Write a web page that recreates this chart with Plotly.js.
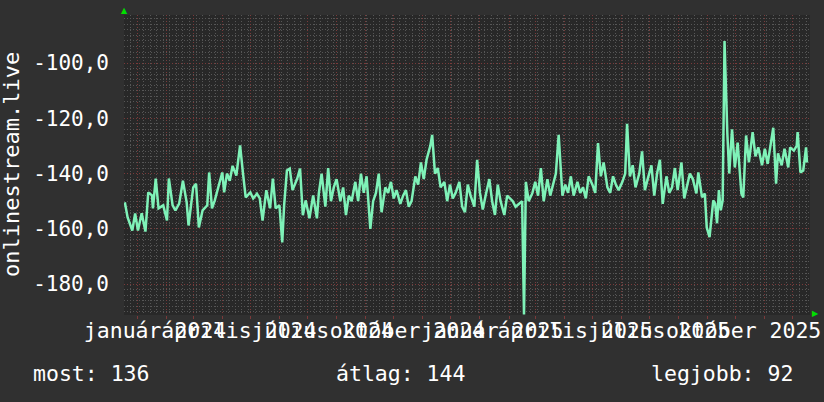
<!DOCTYPE html>
<html><head><meta charset="utf-8">
<script src="https://cdn.plot.ly/plotly-3.0.1.min.js"></script>
<style>html,body{margin:0;padding:0;background:#303030;}#chart{width:824px;height:402px;}</style>
</head><body><div id="chart"></div>
<script>
// ---- data ----
const dates = [
'2023-12-19','2023-12-22','2023-12-27','2023-12-30','2024-01-02','2024-01-06','2024-01-10','2024-01-13','2024-01-17','2024-01-18',
'2024-01-21','2024-01-24','2024-01-29','2024-02-02','2024-02-04','2024-02-08','2024-02-11','2024-02-15','2024-02-19','2024-02-23',
'2024-02-25','2024-03-01','2024-03-04','2024-03-07','2024-03-11','2024-03-16','2024-03-18','2024-03-21','2024-03-24','2024-03-29',
'2024-04-01','2024-04-03','2024-04-06','2024-04-09','2024-04-12','2024-04-16','2024-04-20','2024-04-23','2024-04-26','2024-05-01',
'2024-05-04','2024-05-08','2024-05-11','2024-05-14','2024-05-18','2024-05-22','2024-05-25','2024-05-28','2024-06-01','2024-06-04',
'2024-06-06','2024-06-09','2024-06-12','2024-06-15','2024-06-20','2024-06-23','2024-06-26','2024-06-29','2024-07-03','2024-07-07',
'2024-07-11','2024-07-13',
'2024-07-16','2024-07-20','2024-07-23','2024-07-26','2024-07-29','2024-08-01','2024-08-05','2024-08-08','2024-08-11','2024-08-14',
'2024-08-17','2024-08-21','2024-08-24','2024-08-27','2024-08-30','2024-09-02','2024-09-06','2024-09-09','2024-09-12','2024-09-15',
'2024-09-18','2024-09-22','2024-09-25','2024-09-28','2024-10-01','2024-10-04','2024-10-08','2024-10-11','2024-10-14','2024-10-17',
'2024-10-20','2024-10-24','2024-10-27','2024-10-30','2024-11-02','2024-11-05','2024-11-09','2024-11-11','2024-11-14','2024-11-17',
'2024-11-20','2024-11-24','2024-11-27','2024-11-30','2024-12-03','2024-12-06','2024-12-10','2024-12-13','2024-12-16','2024-12-19',
'2024-12-22','2024-12-26','2024-12-29','2025-01-01','2025-01-04','2025-01-07','2025-01-11','2025-01-14','2025-01-17','2025-01-20',
'2025-01-23','2025-01-27','2025-01-30','2025-02-02','2025-02-05','2025-02-08','2025-02-12','2025-02-15','2025-02-17','2025-02-19',
'2025-02-22','2025-02-26','2025-03-01','2025-03-04','2025-03-07','2025-03-10','2025-03-14','2025-03-17','2025-03-20','2025-03-23',
'2025-03-26','2025-03-30','2025-04-02','2025-04-05','2025-04-08','2025-04-11','2025-04-15','2025-04-18','2025-04-21','2025-04-24',
'2025-04-27','2025-05-01','2025-05-04','2025-05-07','2025-05-10','2025-05-13','2025-05-17','2025-05-20','2025-05-23','2025-05-26',
'2025-05-29','2025-06-02','2025-06-05','2025-06-07','2025-06-10','2025-06-13','2025-06-16','2025-06-20','2025-06-23','2025-06-26',
'2025-06-29','2025-07-03','2025-07-06','2025-07-09','2025-07-12','2025-07-15','2025-07-19','2025-07-22','2025-07-25','2025-07-28',
'2025-07-31','2025-08-04','2025-08-07','2025-08-10',
'2025-08-13','2025-08-16','2025-08-20','2025-08-22','2025-08-26','2025-08-29','2025-08-31','2025-09-03','2025-09-07','2025-09-09',
'2025-09-11','2025-09-13','2025-09-15','2025-09-17','2025-09-19','2025-09-22','2025-09-24','2025-09-27','2025-09-30','2025-10-03',
'2025-10-07','2025-10-09','2025-10-12','2025-10-15','2025-10-19','2025-10-22','2025-10-25','2025-10-29','2025-11-01','2025-11-04',
'2025-11-10','2025-11-13','2025-11-15','2025-11-19','2025-11-22','2025-11-26','2025-11-28','2025-12-02','2025-12-05','2025-12-06',
'2025-12-09','2025-12-12','2025-12-15','2025-12-16'
];
const values = [
-150.4,-155.9,-160.6,-154.4,-160.6,-154.4,-161,-146.8,-147.9,-152.6,
-141.8,-152.6,-151.5,-157,-141.8,-151.5,-153.3,-150.9,-142.6,-150.4,
-158.8,-145,-143.7,-159.5,-153.3,-151.5,-139.6,-152.6,-149.7,-143.7,
-139.6,-146.8,-140,-142.6,-137.2,-140.7,-129.8,-139.6,-148.6,-146.8,
-149,-147.3,-149,-157,-146,-152.6,-141.8,-152.6,-151.5,-164.9,
-151.5,-138.9,-138.2,-146,-141.8,-138.2,-155.1,-149.7,-156.2,-147.9,
-156.2,-147.3,
-140,-152,-138,-150,-145,-142,-150,-145,-155,-148,
-150,-143,-150,-140,-147,-141,-160,-150,-147,-140,
-154,-145,-147,-143,-149,-146,-151,-148,-146,-152,
-150,-141,-144,-136,-142,-135,-130,-126,-140,-138,
-145,-143,-150,-144,-149,-147,-143,-152,-154,-144,
-148,-152,-135,-147,-153,-148,-142,-150,-155,-144,
-150,-155,-148,-149,-150,-152,-151,-150,-191,-143,
-150,-147,-143,-148,-138,-150,-142,-148,-144,-140,
-126,-148,-144,-147,-141,-148,-143,-147,-145,-149,
-141,-144,-147,-129,-141,-136,-145,-147,-141,-144,
-146,-143,-140,-122,-141,-137,-145,-140,-132,-146,
-142,-137,-148,-140,-135,-151,-141,-147,-145,-138,
-146,-136,-149,-144,
-140,-141.8,-147.2,-139.6,-148.6,-147.2,-159.5,-163,-149.7,-150.9,
-158,-146,-153.3,-149.7,-92,-125.5,-140,-124,-137.8,-128.8,
-147.3,-148.6,-126.2,-135.9,-125,-133.8,-130.5,-137,-131,-136.5,
-123.4,-143.7,-132.7,-137,-131,-137.8,-130.5,-131.7,-130,-125,
-139.6,-138.9,-130.5,-136
];
const seriesName = 'onlinestream.live';
const quarterStarts = ['2024-01-01','2024-04-01','2024-07-01','2024-10-01','2025-01-01','2025-04-01','2025-07-01','2025-10-01'];
const quarterLabels = ['január 2024','április 2024','július 2024','október 2024','január 2025','április 2025','július 2025','október 2025'];
const yTickVals = [-180, -160, -140, -120, -100];
const yTickText = ['-180,0', '-160,0', '-140,0', '-120,0', '-100,0'];
const statTexts = ['most: 136', 'átlag: 144', 'legjobb: 92'];

// ---- axis helpers ----
const DAY = 86400000;
const xRange = ['2023-12-18 03:00', '2025-12-19 05:00'];
const monthTicks = [];
for (let y = 2024; y <= 2025; y++) for (let m = 1; m <= 12; m++) monthTicks.push(y + '-' + String(m).padStart(2, '0') + '-01');
// RRD-style label placement: labels sit a little after their period start
const t0 = Date.parse(quarterStarts[0] + 'T00:00:00Z');
const labelPos = quarterStarts.map(s => {
  const dq = (Date.parse(s + 'T00:00:00Z') - t0) / DAY;
  return new Date(t0 + (19.2 + 0.9831 * dq) * DAY).toISOString().slice(0, 16).replace('T', ' ');
});

const FONT = 'DejaVu Sans Mono';
const RED = '#7a3a3a';
const GRAY = '#565656';
const DASH = '1px,2px';

const traces = [
  { x: dates, y: values, type: 'scatter', mode: 'lines', line: { color: '#7ff2b8', width: 2.5 }, hoverinfo: 'skip', showlegend: false },
  { x: xRange, y: [null, null], xaxis: 'x2', yaxis: 'y', type: 'scatter', mode: 'lines', hoverinfo: 'skip', showlegend: false }
];

const layout = {
  width: 824, height: 402,
  paper_bgcolor: '#303030', plot_bgcolor: '#282828',
  margin: { l: 124, r: 14, t: 15, b: 87 },
  showlegend: false,
  font: { family: FONT, color: '#ffffff', size: 20 },
  xaxis: {
    type: 'date', range: xRange, tickmode: 'array', tickvals: monthTicks, ticktext: monthTicks.map(() => ''),
    showgrid: true, gridcolor: RED, griddash: DASH, gridwidth: 1, zeroline: false, showline: false,
    ticks: 'outside', ticklen: 3, tickcolor: RED,
    minor: { tickmode: 'linear', tick0: '2023-12-18', dtick: 7 * DAY, showgrid: true, gridcolor: GRAY, griddash: DASH, ticks: '' }
  },
  xaxis2: {
    type: 'date', overlaying: 'x', anchor: 'y', side: 'bottom', range: xRange,
    tickmode: 'array', tickvals: labelPos, ticktext: quarterLabels, tickangle: 0,
    showgrid: false, zeroline: false, ticks: '', ticklabeloverflow: 'allow',
    tickfont: { family: FONT, size: 21.5, color: '#ffffff' }
  },
  yaxis: {
    range: [-191.2, -82.6], tickmode: 'array', tickvals: yTickVals, ticktext: yTickText,
    showgrid: true, gridcolor: RED, griddash: DASH, zeroline: false, showline: false, ticks: '',
    ticklabelstandoff: 14, tickfont: { family: FONT, size: 21, color: '#ffffff' },
    minor: { tickmode: 'linear', tick0: 0, dtick: 2, showgrid: true, gridcolor: GRAY, griddash: DASH }
  },
  annotations: [
    { text: seriesName, xref: 'paper', yref: 'paper', x: 0, y: 0.5, xshift: -113, textangle: -90, showarrow: false,
      xanchor: 'center', yanchor: 'middle', font: { family: FONT, size: 22, color: '#ffffff' } },
    { text: statTexts[0], xref: 'paper', yref: 'paper', x: 0, y: 0, xshift: -93, yshift: -58, xanchor: 'left', yanchor: 'middle', showarrow: false, font: { family: FONT, size: 21.5, color: '#ffffff' } },
    { text: statTexts[1], xref: 'paper', yref: 'paper', x: 0, y: 0, xshift: 210, yshift: -58, xanchor: 'left', yanchor: 'middle', showarrow: false, font: { family: FONT, size: 21.5, color: '#ffffff' } },
    { text: statTexts[2], xref: 'paper', yref: 'paper', x: 0, y: 0, xshift: 525, yshift: -58, xanchor: 'left', yanchor: 'middle', showarrow: false, font: { family: FONT, size: 21.5, color: '#ffffff' } },
    { text: '▲', xref: 'paper', yref: 'paper', x: 0, y: 1, xshift: 0.5, yshift: 4.5, xanchor: 'center', yanchor: 'middle', showarrow: false, font: { family: 'DejaVu Sans', size: 8, color: '#00e000' } },
    { text: '▶', xref: 'paper', yref: 'paper', x: 1, y: 0, xshift: 5, yshift: 1.5, xanchor: 'center', yanchor: 'middle', showarrow: false, font: { family: 'DejaVu Sans', size: 8, color: '#00e000' } }
  ]
};

Plotly.newPlot('chart', traces, layout, { staticPlot: true, displayModeBar: false });
</script>
</body></html>
